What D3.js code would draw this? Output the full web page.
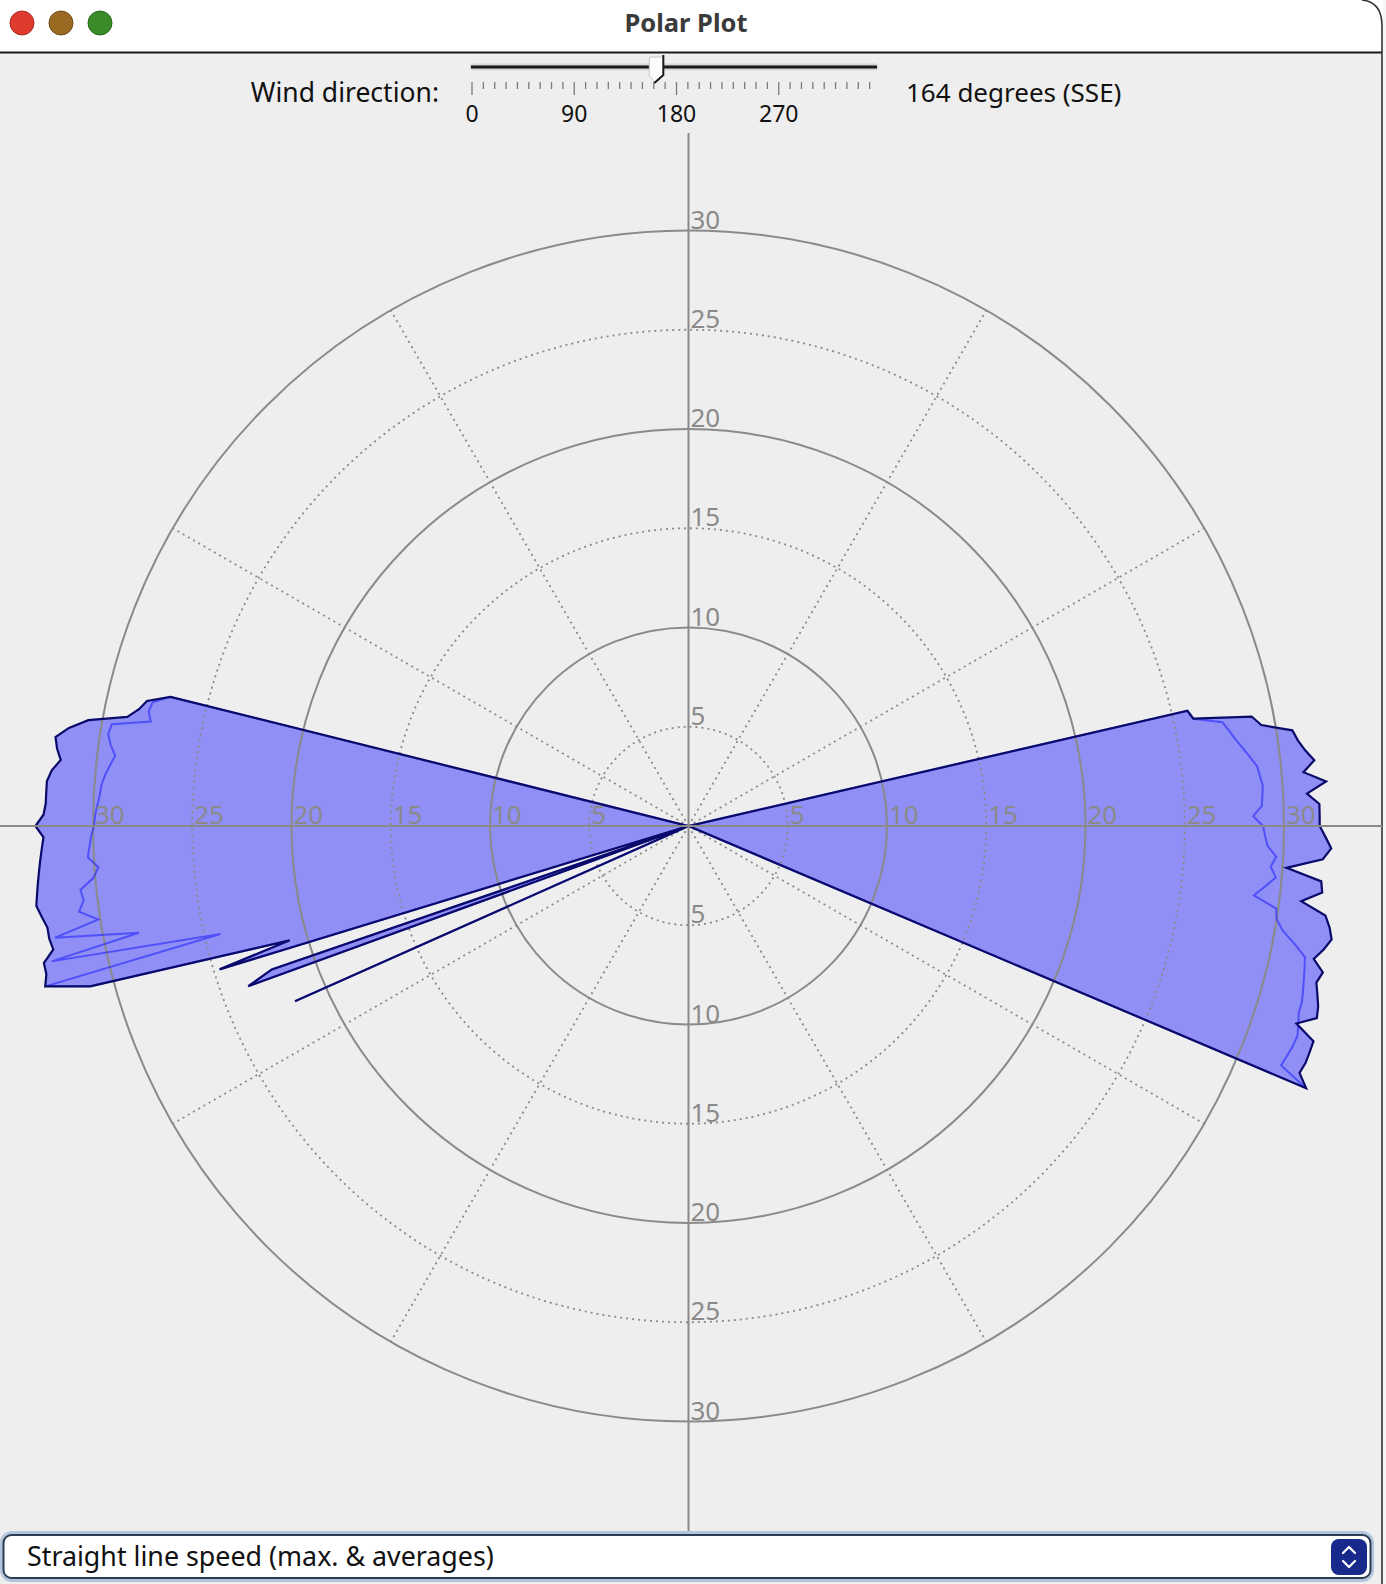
<!DOCTYPE html>
<html><head><meta charset="utf-8">
<script src="https://cdn.jsdelivr.net/npm/d3@7/dist/d3.min.js"></script>
<style>html,body{margin:0;padding:0;background:#eeeeee;overflow:hidden}svg{display:block}</style>
</head><body>
<script>
// ---------- data ----------
const bearings = [77,78,79,80,81,82,83,84,85,86,87,88,89,90,91,92,93,94,95,96,97,98,99,100,101,102,103,104,105,106,107,108,109,110,111,112,113,114,
  246,247,250,251,252,253,254,
  255,256,257,258,259,260,261,262,263,264,265,266,267,268,269,270,271,272,273,274,275,276,277,278,279,280,281,282,283,284,285];
const maxSpeed = [25.8,26.0,28.9,29.3,30.8,31.0,31.3,31.7,31.1,32.2,31.2,31.8,31.8,31.8,32.1,32.4,32.0,30.2,32.0,32.1,31.1,32.4,32.7,32.9,32.6,32.2,32.8,32.6,32.8,33.0,33.1,32.2,33.3,33.3,33.3,33.2,33.8,0,
  21.7,0,23.6,22.2,0,24.7,20.9,
  31.2,33.4,33.2,33.2,32.6,32.7,32.7,32.9,33.1,33.0,32.9,32.8,32.7,32.6,32.5,32.9,32.5,32.4,32.4,32.4,32.2,31.8,32.05,32.2,31.6,30.7,28.8,28.3,28.0,26.9,0];
const avgSpeed = [25.8,26.0,27.4,27.65,27.9,28.2,28.5,28.8,28.9,29.0,28.95,28.9,28.45,28.95,29.05,29.2,29.65,29.4,29.7,29.2,28.7,29.9,30.0,30.4,31.1,31.75,31.85,31.95,32.05,32.15,32.15,32.3,32.45,32.4,32.3,32.2,33.8,0,
  21.7,0,23.6,22.2,0,24.7,20.9,
  31.2,33.3,24.2,32.8,28.2,32.4,30.1,31.0,30.7,30.8,30.1,29.8,30.3,30.2,30.1,29.95,29.9,29.8,29.7,29.65,29.5,29.3,29.1,29.4,29.6,29.5,27.6,27.8,27.7,26.9,0];
const radialTicks = [5,10,15,20,25,30];
const spokeAngles = [30,60,120,150,210,240,300,330];
const sliderLabels = [0,90,180,270];
const windDirection = 164;
const windText = "164 degrees (SSE)";

// ---------- layout ----------
const W = 1386, H = 1584;
const cx = 688.5, cy = 826, R = 595.5;
const FONT = "'Noto Sans', 'Open Sans', sans-serif";
const svg = d3.select("body").append("svg").attr("width", W).attr("height", H);

svg.append("rect").attr("width", W).attr("height", H).attr("fill", "#eeeeee");

// title bar
svg.append("rect").attr("x",0).attr("y",0).attr("width",W).attr("height",52).attr("fill","#ffffff");
svg.append("line").attr("x1",0).attr("x2",1382).attr("y1",52.5).attr("y2",52.5).attr("stroke","#1a1a1a").attr("stroke-width",2);
[["#df3b2e","#a92a20"],["#9b6a22","#6d4915"],["#3b8b28","#286a1a"]].forEach((c,i)=>{
  svg.append("circle").attr("cx",22+39*i).attr("cy",23).attr("r",12).attr("fill",c[0]).attr("stroke",c[1]).attr("stroke-width",1);
});
svg.append("text").attr("x",686).attr("y",32).attr("text-anchor","middle")
  .attr("font-family",FONT).attr("font-weight","bold").attr("font-size",25.5).attr("fill","#3a3a3a").text("Polar Plot");
// window right border
svg.append("rect").attr("x",1383).attr("y",0).attr("width",3).attr("height",H).attr("fill","#f6f6f6");
svg.append("path").attr("d","M1362,0 Q1382,2 1382,26 L1382,1584").attr("fill","none").attr("stroke","#333").attr("stroke-width",1.6);

// slider
const sx = d3.scaleLinear().domain([0,360]).range([472,881]);
svg.append("rect").attr("x",470).attr("y",63.5).attr("width",408).attr("height",7).attr("rx",3).attr("fill","#d6d6d6");
svg.append("line").attr("x1",471).attr("x2",877).attr("y1",67).attr("y2",67).attr("stroke","#1a1a1a").attr("stroke-width",3);
d3.range(0,360,10).forEach(v=>{
  const major = sliderLabels.includes(v);
  svg.append("line").attr("x1",sx(v)).attr("x2",sx(v)).attr("y1",82).attr("y2",major?95:89)
    .attr("stroke","#7a7a7a").attr("stroke-width",1.3);
});
sliderLabels.forEach(v=>{
  svg.append("text").attr("x",sx(v)).attr("y",122).attr("text-anchor","middle")
    .attr("font-family",FONT).attr("font-size",23).attr("fill","#111").text(v);
});
const tx = sx(windDirection)+4;
svg.append("path").attr("d",`M${tx-13},57 L${tx+1},57 L${tx+1},75 L${tx-7},83 L${tx-13},76 Z`).attr("fill","#fbfbfb").attr("stroke","#c8c8c8").attr("stroke-width",1);
svg.append("path").attr("d",`M${tx+1},55 L${tx+1},75 L${tx-8},83`).attr("fill","none").attr("stroke","#1a1a1a").attr("stroke-width",2);
svg.append("text").attr("x",439).attr("y",102).attr("text-anchor","end")
  .attr("font-family",FONT).attr("font-size",26.5).attr("fill","#111").text("Wind direction:");
svg.append("text").attr("x",906).attr("y",102)
  .attr("font-family",FONT).attr("font-size",26).attr("fill","#111").text(windText);

// ---------- polar chart ----------
const r = d3.scaleLinear().domain([0,30]).range([0,R]);
const g = svg.append("g").attr("transform",`translate(${cx},${cy})`);
const toRad = d => d*Math.PI/180;
const radial = vals => d3.lineRadial()
  .angle((d,i)=>toRad(bearings[i])).radius(d=>r(d)).curve(d3.curveLinearClosed)(vals);

// fill
g.append("path").attr("d",radial(maxSpeed)).attr("fill","rgba(0,0,255,0.4)").attr("stroke","none");

// grid
const gridColor = "#8a8a8a";
spokeAngles.forEach(a=>{
  g.append("line").attr("x1",0).attr("y1",0)
    .attr("x2",r(30)*Math.sin(toRad(a))).attr("y2",-r(30)*Math.cos(toRad(a)))
    .attr("stroke",gridColor).attr("stroke-width",1.8).attr("stroke-dasharray","2,4");
});
radialTicks.forEach(t=>{
  const solid = t%10===0;
  g.append("circle").attr("r",r(t)).attr("fill","none").attr("stroke",gridColor)
    .attr("stroke-width",solid?2:1.8).attr("stroke-dasharray",solid?null:"2,4");
});
svg.append("line").attr("x1",0).attr("x2",1382).attr("y1",cy).attr("y2",cy).attr("stroke",gridColor).attr("stroke-width",2);
svg.append("line").attr("x1",cx).attr("x2",cx).attr("y1",133).attr("y2",1533).attr("stroke",gridColor).attr("stroke-width",2);

// average line and max outline
g.append("path").attr("d",radial(avgSpeed)).attr("fill","none").attr("stroke","rgba(30,30,255,0.55)").attr("stroke-width",2);
g.append("path").attr("d",radial(maxSpeed)).attr("fill","none").attr("stroke","#0a0a6a").attr("stroke-width",2.2).attr("stroke-linejoin","miter");

// ring labels
radialTicks.forEach(t=>{
  [0,90,180,270].forEach(a=>{
    g.append("text")
      .attr("x", r(t)*Math.sin(toRad(a)) + 2)
      .attr("y", -r(t)*Math.cos(toRad(a)) - 2)
      .attr("font-family",FONT).attr("font-size",26).attr("fill","#8a8a8a").text(t);
  });
});

// dropdown
svg.append("rect").attr("x",2).attr("y",1533).attr("width",1370).attr("height",47).attr("rx",10).attr("fill","none").attr("stroke","#b3c4dc").attr("stroke-width",4);
svg.append("rect").attr("x",3.5).attr("y",1535).attr("width",1367).attr("height",43).attr("rx",8).attr("fill","#ffffff").attr("stroke","#2e3c52").attr("stroke-width",2);
svg.append("text").attr("x",27).attr("y",1566).attr("font-family",FONT).attr("font-size",26.8).attr("fill","#111")
  .text("Straight line speed (max. & averages)");
svg.append("rect").attr("x",1331).attr("y",1539).attr("width",36).attr("height",36).attr("rx",8).attr("fill","#17298a");
svg.append("path").attr("d","M1343,1553 L1349,1547 L1355,1553 M1343,1561 L1349,1567 L1355,1561")
  .attr("fill","none").attr("stroke","#fff").attr("stroke-width",2.2).attr("stroke-linecap","round").attr("stroke-linejoin","round");
</script>
</body></html>
